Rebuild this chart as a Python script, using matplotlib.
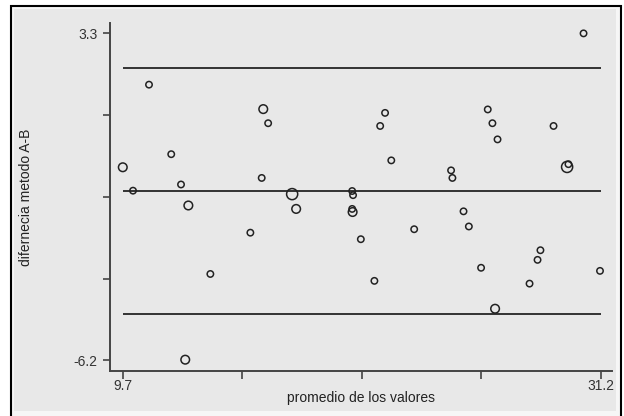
import matplotlib
matplotlib.use('Agg')
import matplotlib.pyplot as plt
from matplotlib.patches import Rectangle
import numpy as np

# Bland-Altman data
promedio = [9.69, 10.15, 10.87, 11.87, 12.31, 12.50, 12.64, 13.63, 15.43, 15.94,
            16.01, 16.23, 17.31, 17.49, 20.01, 20.05, 20.01, 20.03, 20.40, 21.01,
            21.27, 21.49, 21.77, 22.80, 24.46, 24.52, 25.02, 25.26, 25.81, 26.11,
            26.32, 26.44, 26.55, 27.99, 28.35, 28.48, 29.07, 29.68, 29.74, 30.42,
            31.16]
diferencia = [-0.59, -1.27, 1.81, -0.21, -1.09, -6.18, -1.70, -3.69, -2.49, -0.90,
              1.10, 0.69, -1.37, -1.80, -1.28, -1.40, -1.80, -1.89, -2.68, -3.89,
              0.61, 0.99, -0.39, -2.39, -0.68, -0.90, -1.87, -2.31, -3.51, 1.09,
              0.69, -4.70, 0.22, -3.97, -3.28, -3.00, 0.61, -0.58, -0.50, 3.30,
              -3.60]
# marker size class: 1 small, 2 medium, 3 large (overlapping obs)
peso = [2, 1, 1, 1, 1, 2, 2, 1, 1, 1,
        2, 1, 3, 2, 1, 1, 1, 2, 1, 1,
        1, 1, 1, 1, 1, 1, 1, 1, 1, 1,
        1, 2, 1, 1, 1, 1, 1, 3, 1, 1,
        1]

media = -1.29
lim_sup = 2.29
lim_inf = -4.85

x_min, x_max = 9.7, 31.2
y_min, y_max = -6.2, 3.3

W, H = 624, 416
fig = plt.figure(figsize=(W / 100, H / 100), dpi=100)
fig.patch.set_facecolor('white')

# outer frame and grey panel
fig.patches.append(Rectangle((11 / W, -0.02), 610 / W, 1 - 6 / H + 0.02,
                             transform=fig.transFigure, facecolor='#f6f6f6',
                             edgecolor='black', lw=1.5, zorder=-10))
fig.patches.append(Rectangle((14 / W, 1 - 411 / H), 602 / W, 402 / H,
                             transform=fig.transFigure, facecolor='#e8e8e8',
                             edgecolor='none', zorder=-9))

ax = fig.add_axes([110 / W, 1 - 370.7 / H, 502 / W, 348 / H])
ax.set_facecolor('none')

sizes = {1: 4.6, 2: 6.2, 3: 8.0}
ms = np.array([sizes[p] for p in peso]) ** 2
ax.scatter(promedio, diferencia, s=ms, facecolors='none', edgecolors='#222222',
           linewidths=1.1, zorder=3)

ax.hlines([lim_sup, media, lim_inf], x_min, x_max, colors='#333333', lw=1.4)

ax.set_xlim(9.115, 31.7)
ax.set_ylim(-6.50, 3.61)

xt = np.linspace(x_min, x_max, 5)
yt = np.linspace(y_min, y_max, 5)
ax.set_xticks(xt)
ax.set_xticklabels(['9.7', '', '', '', '31.2'])
ax.set_yticks(yt)
ax.set_yticklabels(['-6.2', '', '', '', '3.3'])

for s in ['top', 'right']:
    ax.spines[s].set_visible(False)
for s in ['left', 'bottom']:
    ax.spines[s].set_color('#444444')
    ax.spines[s].set_linewidth(1.4)

ax.tick_params(axis='x', length=6, width=1.2, color='#444444', pad=0,
               labelsize=10, labelcolor='#333333')
ax.tick_params(axis='y', length=5, width=1.2, color='#444444', pad=4,
               labelsize=10, labelcolor='#333333')
for lab in ax.get_xticklabels() + ax.get_yticklabels():
    lab.set_family('Liberation Sans')

fig.text(361 / W, 1 - 398 / H, 'promedio de los valores', ha='center', va='center',
         fontsize=10, color='#222222', family='Liberation Sans')
fig.text(26 / W, 1 - 197 / H, 'difernecia metodo A-B', ha='center', va='center',
         rotation=90, fontsize=10, color='#222222', family='Liberation Sans')

fig.savefig('out.png', dpi=100)
